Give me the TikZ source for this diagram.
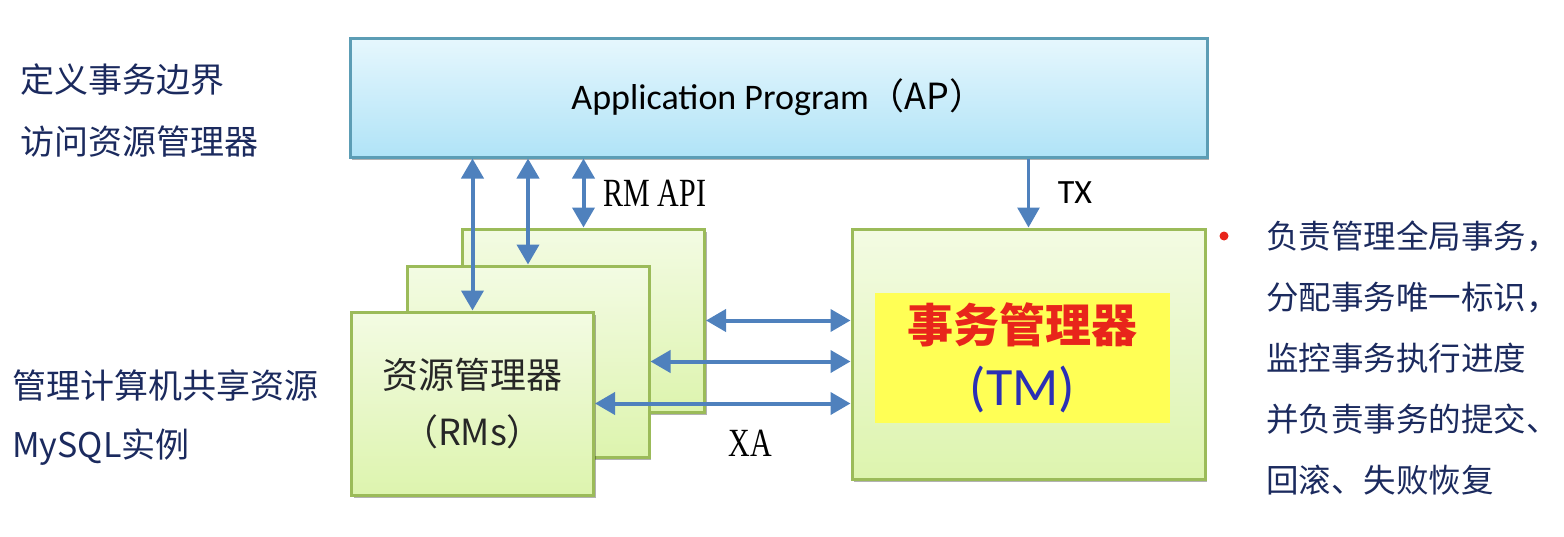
\documentclass[tikz,border=0pt]{standalone}
\usepackage{fontspec}
\setmainfont{Carlito}
\newfontfamily\cjk{Noto Sans CJK SC}
\newfontfamily\apifont[FakeStretch=0.75]{Liberation Serif}
\usepackage{tikz}
\usetikzlibrary{arrows.meta,positioning,shadows}
\definecolor{navy}{HTML}{1B2A5E}
\definecolor{apTop}{HTML}{E6F7FD}
\definecolor{apBot}{HTML}{B0E3F7}
\definecolor{apEdge}{HTML}{5C9DB5}
\definecolor{rmTop}{HTML}{F3FBE3}
\definecolor{rmBot}{HTML}{DDF4AE}
\definecolor{rmEdge}{HTML}{9BBB59}
\definecolor{linkBlue}{HTML}{4F81BD}
\definecolor{tmYellow}{HTML}{FFFF55}
\definecolor{tmRed}{HTML}{E8251B}
\definecolor{tmBlue}{HTML}{2B2FB5}
\newcommand{\fsz}[1]{\fontsize{#1}{#1}\selectfont}

\begin{document}
\begin{tikzpicture}[x=1pt,y=-1pt,
  >={Triangle[width=22pt,length=20pt]},
  shade/.style={drop shadow={shadow xshift=2pt,shadow yshift=-3pt,opacity=0.3,fill=black}},
  apbox/.style={draw=apEdge,line width=3pt,top color=apTop,bottom color=apBot,shade,
    minimum width=857pt,minimum height=119pt,inner sep=0pt},
  rmbox/.style={draw=rmEdge,line width=3pt,top color=rmTop,bottom color=rmBot,shade,
    minimum width=242pt,minimum height=183pt,inner sep=0pt,align=center},
  link/.style={draw=linkBlue,line width=4pt},
  note/.style={text=navy,anchor=west,inner sep=0pt,font=\cjk\fsz{34}},
  tag/.style={text=black,inner sep=0pt}
]
\useasboundingbox (0,0) rectangle (1564,536);

% application program
\node[apbox] (ap) at (778.5,97.5) {\fsz{36}Application Program{\cjk （AP）}};

% resource managers, back to front
\node[rmbox] (rmA) at (583.5,320.5) {};
\node[rmbox,minimum height=191pt] (rmB) at (528,361.5) {};
\node[rmbox,font=\cjk\fontsize{36}{57}\selectfont,text=black!85] (rmC) at (472.5,403.5) {资源管理器\\（RMs）};

% transaction manager
\node[rmbox,minimum width=353pt,minimum height=250pt] (tm) at (1028.5,354) {};
\node[fill=tmYellow,minimum width=295pt,minimum height=130pt,inner sep=0pt,align=center] (tmcore) at (1022.5,358)
  {{\cjk\bfseries\color{tmRed}\fontsize{46}{60}\selectfont 事务管理器}\\[18pt]{\color{tmBlue}\fsz{54}(TM)}};

% RM API
\draw[link,<->] (rmC.north) -- (rmC.north |- ap.south);
\draw[link,<->] (rmB.north) -- (rmB.north |- ap.south);
\draw[link,<->] (rmA.north) -- (rmA.north |- ap.south);
\node[tag,font=\apifont\fsz{40}] (api) at (655,193) {RM API};

% TX
\draw[link,line width=3pt,->] (tm.north |- ap.south) -- (tm.north);
\node[tag,font=\fsz{34}] (tx) at (1075,193) {TX};

% XA
\draw[link,<->] (rmA.east) -- (rmA.east -| tm.west);
\draw[link,<->] (rmB.east) -- (rmB.east -| tm.west);
\draw[link,<->] (rmC.east) -- (rmC.east -| tm.west);
\node[tag,font=\apifont\fsz{40}] (xa) at (750,443) {XA};

% side notes
\node[note] (apnote1) at (20,80) {定义事务边界};
\node[note] (apnote2) at (20,142) {访问资源管理器};
\node[note] (rmnote1) at (12,385) {管理计算机共享资源};
\node[note] (rmnote2) at (12,447) {MySQL实例};

\node[circle,fill=tmRed,minimum size=9pt,inner sep=0pt] (dot) at (1224,236) {};
\node[note,align=left,font=\cjk\fontsize{32.5}{61}\selectfont] (tmnote) at (1266,358)
  {负责管理全局事务，\\分配事务唯一标识，\\监控事务执行进度\\并负责事务的提交、\\回滚、失败恢复};
\end{tikzpicture}
\end{document}
